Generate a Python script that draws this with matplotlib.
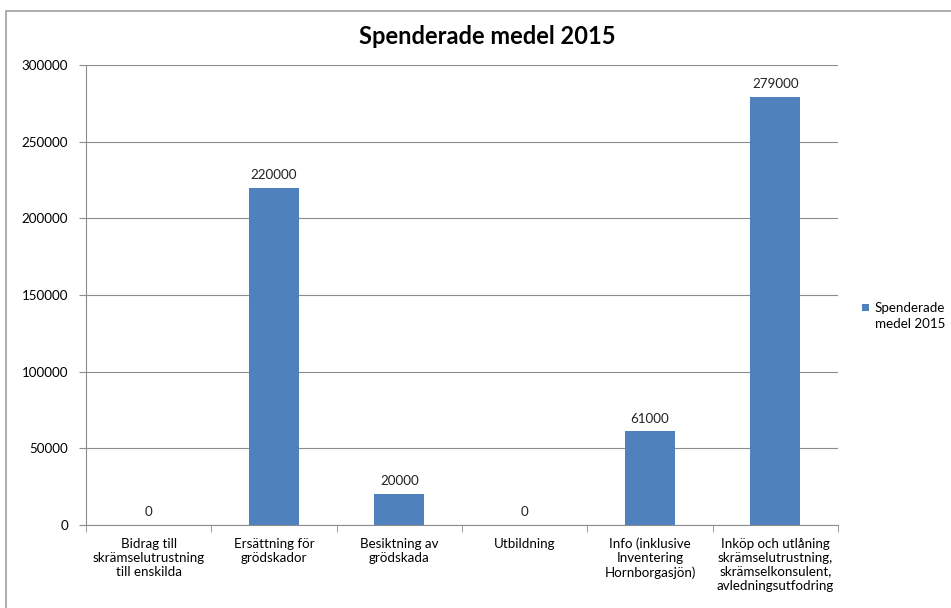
import matplotlib
matplotlib.use("Agg")
import matplotlib.pyplot as plt
from matplotlib.patches import Rectangle
from matplotlib.lines import Line2D

categories = [
    "Bidrag till\nskrämselutrustning\ntill enskilda",
    "Ersättning för\ngrödskador",
    "Besiktning av\ngrödskada",
    "Utbildning",
    "Info (inklusive\nInventering\nHornborgasjön)",
    "Inköp och utlåning\nskrämselutrustning,\nskrämselkonsulent,\navledningsutfodring",
]
values = [0, 220000, 20000, 0, 61000, 279000]
series_name = "Spenderade\nmedel 2015"
title = "Spenderade medel 2015"
yticks = [0, 50000, 100000, 150000, 200000, 250000, 300000]

plt.rcParams['font.family'] = ['Lato', 'DejaVu Sans']
color = "#4F81BD"
grid = "#8C8C8C"
fs = 9.6

fig = plt.figure(figsize=(9.51, 6.08), dpi=100)
ax = fig.add_axes([86/951, 1-525/608, (838-86)/951, (525-65)/608])

x = list(range(len(categories)))
bars = ax.bar(x, values, width=0.4, color=color, zorder=3)
for xi, v in zip(x, values):
    ax.text(xi, v + 4500, f"{v}", ha="center", va="bottom", fontsize=fs, color="#222222")

ax.set_xlim(-0.5, len(categories) - 0.5)
ax.set_ylim(0, 300000)
ax.set_yticks(yticks)
ax.set_yticklabels([str(t) for t in yticks], fontsize=fs)
ax.yaxis.grid(True, color=grid, linewidth=0.8, zorder=0)
ax.set_xticks(x)
ax.set_xticklabels(categories, fontsize=fs, linespacing=1.2)
ax.set_xticks([i - 0.5 for i in range(len(categories) + 1)], minor=True)
ax.tick_params(axis='x', which='major', length=0, pad=9)
ax.tick_params(axis='x', which='minor', length=5, color=grid)
ax.tick_params(axis='y', length=5, color=grid, pad=8)
for s in ["top", "right"]:
    ax.spines[s].set_visible(False)
ax.spines["left"].set_color(grid)
ax.spines["bottom"].set_color(grid)

fig.text(487/951, 1-37/608, title, ha="center", va="center", fontsize=17, fontweight="bold")

# legend
fig.patches.append(Rectangle((862/951, 1-311/608), 7/951, 7/608, transform=fig.transFigure,
                             facecolor=color, edgecolor="none"))
fig.text(875/951, 1-316/608, series_name, ha="left", va="center", fontsize=fs, linespacing=1.3)

# chart frame
fig.lines.append(Line2D([6/951, 6/951, 1.0], [0, 1-11/608, 1-11/608], transform=fig.transFigure,
                        color="#A0A0A0", linewidth=1.2))

fig.savefig("out.png", dpi=100)
